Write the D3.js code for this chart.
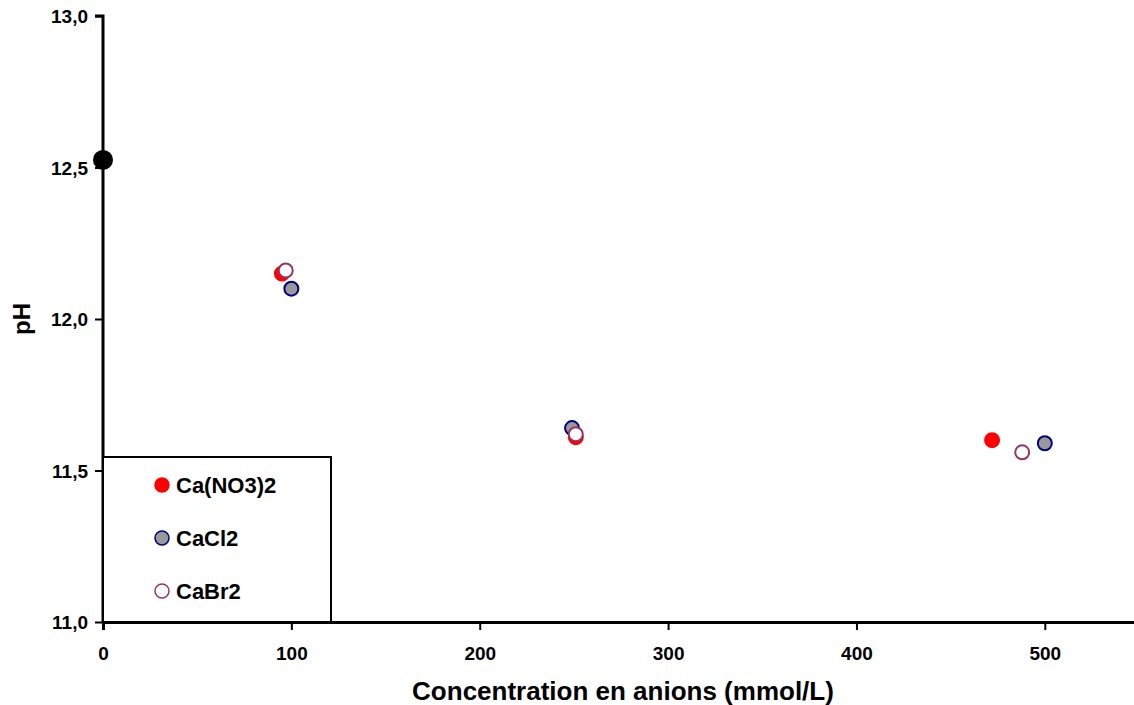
<!DOCTYPE html>
<html><head><meta charset="utf-8">
<script src="https://cdn.jsdelivr.net/npm/d3@7"></script>
<style>body{margin:0;background:#fff}svg{display:block}text{font-family:"Liberation Sans",Arial,sans-serif;font-weight:bold}</style>
</head><body>
<svg id="c" width="1134" height="705"></svg>
<script>
const xTicks = [0,100,200,300,400,500];
const yTicks = [11.0,11.5,12.0,12.5,13.0];
const refPoint = [{x:0,y:12.525}];
const seriesNames = ["Ca(NO3)2","CaCl2","CaBr2"];
const nitrate = [{x:95,y:12.15},{x:251,y:11.61},{x:472,y:11.60}];
const chloride = [{x:100,y:12.10},{x:249,y:11.64},{x:500,y:11.59}];
const bromide = [{x:97,y:12.16},{x:251,y:11.62},{x:488,y:11.56}];
const styles = [{fill:"#ff0000",stroke:"#ff0000"},{fill:"#999999",stroke:"#000080"},{fill:"#ffffff",stroke:"#993366"}];
const allSeries = [nitrate, chloride, bromide];

const svg = d3.select("#c");
const x = d3.scaleLinear().domain([0,550]).range([103,1139]);
const y = d3.scaleLinear().domain([11,13]).range([622,16]);

const fmt = d => d.toFixed(1).replace(".", ",");

const gx = svg.append("g").attr("transform","translate(0,622)")
  .call(d3.axisBottom(x).tickValues(xTicks).tickSize(8).tickPadding(17).tickFormat(d3.format("d")));
const gy = svg.append("g").attr("transform","translate(103,0)")
  .call(d3.axisLeft(y).tickValues(yTicks).tickSize(8).tickPadding(7).tickFormat(fmt));
[gx,gy].forEach(g=>{
  g.attr("font-size",19).attr("font-family",null);
  g.select(".domain").attr("stroke","#000").attr("stroke-width",3);
  g.selectAll(".tick line").attr("stroke","#000").attr("stroke-width",2);
  g.selectAll(".tick text").attr("fill","#000");
});
gy.select(".domain").attr("d","M-8,16H0V622");
gy.selectAll(".tick text").attr("dy","0.36em");

// legend box
svg.append("rect").attr("x",103).attr("y",457).attr("width",228).attr("height",165)
  .attr("fill","#fff").attr("stroke","#000").attr("stroke-width",2);

// points
allSeries.forEach((s,i)=>{
  svg.append("g").selectAll("circle").data(s).join("circle")
    .attr("cx",d=>x(d.x)).attr("cy",d=>y(d.y)).attr("r",7)
    .attr("fill",styles[i].fill).attr("stroke",styles[i].stroke).attr("stroke-width",2);
});
svg.append("g").selectAll("circle").data(refPoint).join("circle")
  .attr("cx",d=>x(d.x)).attr("cy",d=>y(d.y)).attr("r",10).attr("fill","#000");

// legend entries
seriesNames.forEach((n,i)=>{
  const yy = 485 + i*53;
  svg.append("circle").attr("cx",162).attr("cy",yy).attr("r",7)
    .attr("fill",styles[i].fill).attr("stroke",styles[i].stroke).attr("stroke-width",1.5);
  svg.append("text").attr("x",176).attr("y",yy+8).attr("font-size","22px").text(n);
});

svg.append("text").attr("x",623).attr("y",700).attr("text-anchor","middle").attr("font-size","26px")
  .text("Concentration en anions (mmol/L)");
svg.append("text").attr("transform","translate(30,319) rotate(-90)").attr("text-anchor","middle").attr("font-size","24px").text("pH");
</script>
</body></html>
